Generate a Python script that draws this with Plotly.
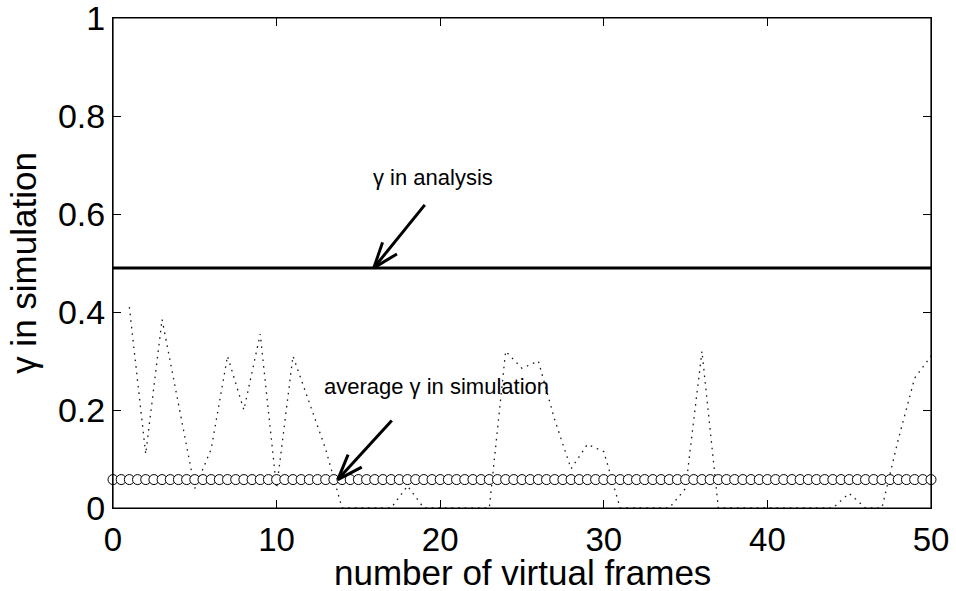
import math
import plotly.graph_objects as go

# Per-frame gamma measured in simulation (frames 1..50)
frames = list(range(1, 51))
gamma_sim = [0.41, 0.11, 0.385, 0.21, 0.04, 0.12, 0.31, 0.20, 0.355, 0.04,
             0.31, 0.215, 0.12, 0.0, 0.0, 0.0, 0.0, 0.045, 0.0, 0.0,
             0.0, 0.0, 0.0, 0.32, 0.285, 0.30, 0.18, 0.08, 0.13, 0.115,
             0.0, 0.0, 0.0, 0.0, 0.04, 0.32, 0.0, 0.0, 0.0, 0.0,
             0.0, 0.0, 0.0, 0.0, 0.03, 0.0, 0.0, 0.14, 0.265, 0.31]

# Analytical gamma and the simulation average
gamma_analysis = 0.49
gamma_avg = 0.058
avg_frames = [i / 2 for i in range(101)]
line_frames = [0, 50]

x_ticks = [0, 10, 20, 30, 40, 50]
y_ticks = [0, 0.2, 0.4, 0.6, 0.8, 1]
y_tick_text = ["0", "0.2", "0.4", "0.6", "0.8", "1"]

FONT = "Liberation Sans, Arial, sans-serif"

fig = go.Figure()

fig.add_trace(go.Scatter(
    x=frames, y=gamma_sim, mode="lines",
    line=dict(color="#1a1a1a", width=1.3, dash="1.6px,5px"),
    showlegend=False, hoverinfo="skip",
))

fig.add_trace(go.Scatter(
    x=line_frames, y=[gamma_analysis] * len(line_frames), mode="lines",
    line=dict(color="black", width=3),
    showlegend=False,
))

fig.add_trace(go.Scatter(
    x=avg_frames, y=[gamma_avg] * len(avg_frames), mode="markers",
    marker=dict(symbol="circle", size=10, color="white",
                line=dict(color="black", width=1)),
    showlegend=False, cliponaxis=False,
))

axis_common = dict(
    showline=True, linecolor="black", linewidth=1, mirror="ticks",
    ticks="inside", ticklen=8, tickcolor="black", tickwidth=1,
    showgrid=False, zeroline=False, ticklabeloverflow="allow",
    automargin=False,
)

fig.update_layout(
    width=956, height=591,
    margin=dict(l=113, r=25, t=18, b=83),
    paper_bgcolor="white", plot_bgcolor="white",
    xaxis=dict(range=[0, 50], tickvals=x_ticks, ticklabelstandoff=2,
               tickfont=dict(family=FONT, size=33, color="black"),
               **axis_common),
    yaxis=dict(range=[0, 1], tickvals=y_ticks, ticktext=y_tick_text,
               tickfont=dict(family=FONT, size=34, color="black"),
               title=dict(text="γ in simulation",
                          font=dict(family=FONT, size=35, color="black"),
                          standoff=10),
               **axis_common),
)

# x-axis title, placed just under the tick labels
fig.add_annotation(xref="paper", yref="paper", x=0.5, y=-0.131,
                   yanchor="middle", text="number of virtual frames",
                   showarrow=False,
                   font=dict(family=FONT, size=35, color="black"))

# Axes box
fig.add_shape(type="rect", xref="paper", yref="paper",
              x0=0, x1=1, y0=0, y1=1, line=dict(color="black", width=1.2),
              layer="above")


def open_arrow(x_tip, y_tip, dx, dy, barb_len=27, barb_angle=20, width=3):
    """Arrow with an open V head; (dx, dy) is the tail offset in pixels (up = +)."""
    base = math.atan2(dy, dx)
    segments = [(dx, dy)]
    for sign in (-1, 1):
        a = base + sign * math.radians(barb_angle)
        segments.append((barb_len * math.cos(a), barb_len * math.sin(a)))
    for ex, ey in segments:
        fig.add_shape(type="line", xref="x", yref="y",
                      xsizemode="pixel", ysizemode="pixel",
                      xanchor=x_tip, yanchor=y_tip,
                      x0=0, y0=0, x1=ex, y1=ey,
                      line=dict(color="black", width=width))


ann_font = dict(family=FONT, size=22, color="black")

open_arrow(15.94, gamma_analysis, 51, 63)
fig.add_annotation(x=19.55, y=0.675, text="γ in analysis", showarrow=False,
                   font=ann_font)

open_arrow(13.74, gamma_avg, 54, 59)
fig.add_annotation(x=19.8, y=0.248, text="average γ in simulation",
                   showarrow=False, font=ann_font)

fig.write_html("out.html")
